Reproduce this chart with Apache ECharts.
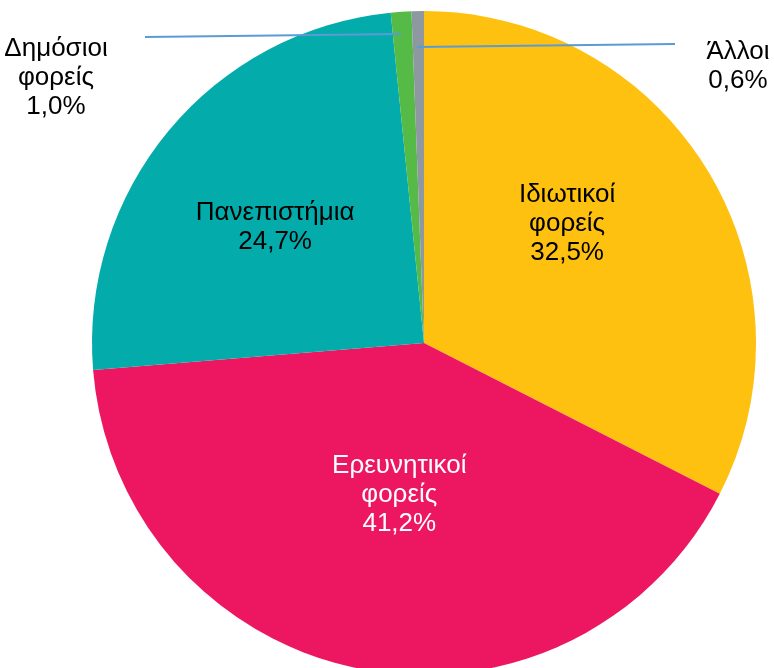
<!DOCTYPE html>
<html><head><meta charset="utf-8">
<script src="https://cdn.jsdelivr.net/npm/echarts@6/dist/echarts.min.js"></script>
<style>html,body{margin:0;padding:0;background:#fff}#c{width:774px;height:668px}</style>
</head><body><div id="c"></div>
<script>
// ---- data ----
const categories = ['Ιδιωτικοί\nφορείς', 'Ερευνητικοί\nφορείς', 'Πανεπιστήμια', 'Δημόσιοι\nφορείς', 'Άλλοι'];
const shares = [32.5, 41.2, 24.7, 1.0, 0.6];

// ---- style / layout ----
const colors = ['#FEC10F', '#ED1660', '#03ABAB', '#55BB46', '#8E98A0'];
const labelColors = ['#000', '#fff', '#000', '#000', '#000'];
const outside = [false, false, false, true, true];
const CX = 424, CY = 343, R = 332;
// inside label nudges (dx, dy) relative to the library's inside anchor
const insideNudge = [[-1, -31], [8, -14], [-19, -8], null, null];
// outside label anchors and leader lines
const outsidePlace = [null, null, null,
  {x: 56, y: 78, line: [[145, 37], [401, 34]]},
  {x: 738, y: 66, line: [[675, 44], [417, 47]]}];

const fmt = v => v.toFixed(1).replace('.', ',') + '%';
const labelFont = {
  fontFamily: 'Liberation Sans, Arial, sans-serif',
  fontSize: 26,
  lineHeight: 29,
  overflow: 'none',
  align: 'center',
  formatter: p => p.name + '\n' + fmt(p.value)
};

// main pie: slices + inside labels
const mainData = categories.map((name, i) => ({
  name: name,
  value: shares[i],
  itemStyle: {color: colors[i]},
  label: {show: !outside[i], position: 'inside', color: labelColors[i]},
  labelLine: {show: false}
}));
// overlay pie (transparent slices): outside labels with leader lines drawn on top
const overlayData = categories.map((name, i) => ({
  name: name,
  value: shares[i],
  itemStyle: {color: 'rgba(0,0,0,0)'},
  label: {show: outside[i], position: 'outside', color: labelColors[i]},
  labelLine: {show: outside[i], length: 10, length2: 20,
    lineStyle: {color: '#5B9BD5', width: 2}}
}));

const chart = echarts.init(document.getElementById('c'), null, {renderer: 'canvas'});
const common = {
  type: 'pie',
  center: [CX, CY],
  radius: [0, R],
  startAngle: 90,
  clockwise: true,
  avoidLabelOverlap: false,
  silent: true,
  emphasis: {disabled: true}
};
chart.setOption({
  animation: false,
  backgroundColor: '#fff',
  series: [
    Object.assign({}, common, {
      z: 2,
      data: mainData,
      label: Object.assign({show: true}, labelFont),
      labelLayout: function (p) {
        const n = insideNudge[p.dataIndex];
        return n ? {dx: n[0], dy: n[1]} : {};
      }
    }),
    Object.assign({}, common, {
      z: 5,
      data: overlayData,
      label: Object.assign({show: true}, labelFont),
      labelLayout: function (p) {
        const o = outsidePlace[p.dataIndex];
        return o ? {x: o.x, y: o.y, align: 'center', verticalAlign: 'middle', labelLinePoints: o.line} : {};
      }
    })
  ]
});
</script>
</body></html>
